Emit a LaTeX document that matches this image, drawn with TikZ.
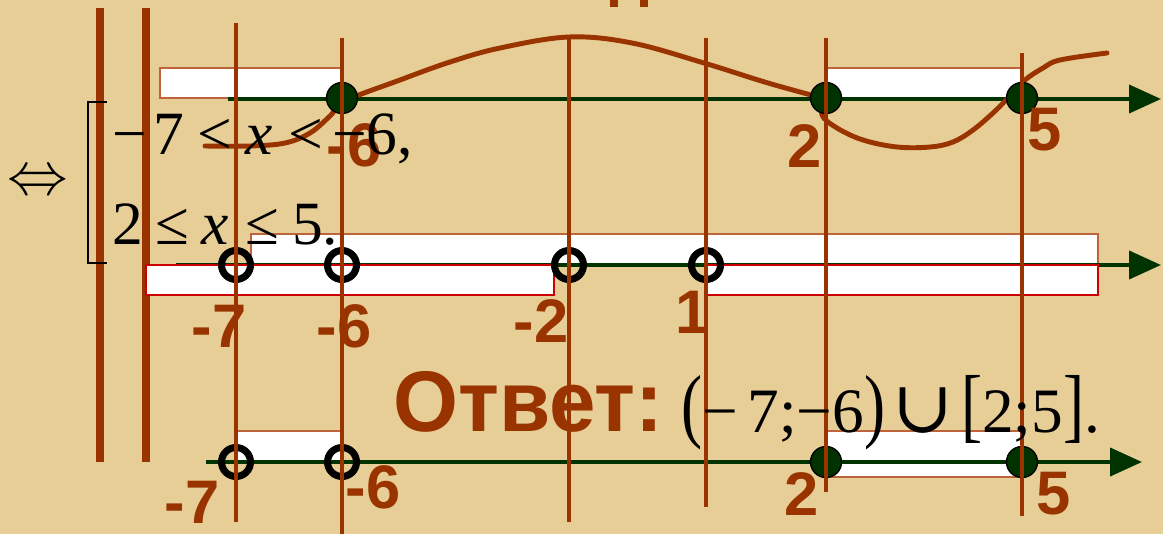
\documentclass[tikz,border=0pt]{standalone}
\usepackage{fontspec}
\usepackage{graphicx}
\setmainfont{Liberation Serif}
\newfontfamily\labfont{Liberation Sans}
\newfontfamily\djserif{DejaVu Serif}
\usetikzlibrary{arrows.meta}
\definecolor{brn}{RGB}{153,51,0}
\definecolor{dkg}{RGB}{0,51,0}
\definecolor{parch}{RGB}{231,206,150}
\definecolor{boxedge}{RGB}{190,100,60}
\definecolor{redge}{RGB}{204,0,0}
\begin{document}
\begin{tikzpicture}[x=0.02cm,y=-0.02cm,
 guide/.style={draw=brn,line width=1.9pt},
 bar/.style={draw=brn,line width=4.5pt},
 axisline/.style={draw=dkg,line width=2.3pt,-{Triangle[length=0.64cm,width=0.56cm]}},
 wbox/.style={fill=white,draw=boxedge,line width=0.9pt},
 rbox/.style={fill=white,draw=redge,line width=0.9pt},
 fdot/.style={circle,fill=dkg,draw=black,line width=0.8pt,minimum size=0.62cm,inner sep=0pt},
 odot/.style={circle,draw=black,line width=4pt,minimum size=0.58cm,inner sep=0pt},
 lab/.style={text=brn,font=\labfont\bfseries\fontsize{35}{35}\selectfont,inner sep=0pt},
 curve/.style={draw=brn,line width=2.8pt,line cap=round,line join=round},
 mtxt/.style={anchor=base west,inner sep=0pt,font=\fontsize{35}{35}\selectfont},
]
\useasboundingbox (0,0) rectangle (1163,534);
% background
\fill[parch] (0,0) rectangle (1163,534);
% title fragment
\fill[brn] (610,0) rectangle (618,7);
\fill[brn] (640,0) rectangle (648,7);
% thick bars
\draw[bar] (100,8) -- (100,462);
\draw[bar] (146,8) -- (146,462);

% ---- axis 1
\draw[wbox] (160,68) rectangle (342,98);
\draw[wbox] (826,68) rectangle (1022,98);
\coordinate (a1s) at (228,99);
\coordinate (a1e) at (1161,99);
\draw[axisline] (a1s) -- (a1e);

% ---- axis 2
\draw[wbox] (251,234) rectangle (1098,265);
\coordinate (a2s) at (176,265);
\coordinate (a2e) at (1161,265);
\draw[axisline] (a2s) -- (a2e);
\draw[rbox] (146,265) rectangle (554,295);
\draw[rbox] (706,265) rectangle (1098,295);

% ---- axis 3
\draw[wbox] (236,431) rectangle (342,462);
\draw[wbox] (826,431) rectangle (1022,477);
\coordinate (a3s) at (206,462);
\coordinate (a3e) at (1142,462);
\draw[axisline] (a3s) -- (a3e);

% curve
\draw[curve] plot[smooth,tension=0.6] coordinates {(205,146) (250,146) (285,143) (310,133) (330,116) (345,101) (400,80) (450,62) (500,48) (569,37) (632,43) (704,63) (768,83) (826,99)};
\draw[curve] plot[smooth,tension=0.6] coordinates {(826,99) (822,115) (837,128) (863,140) (897,147) (930,147) (953,142) (973,130) (993,113) (1010,96) (1025,80) (1043,68) (1060,60) (1107,53)};

% dots
\node[fdot] (p1a) at (342,98) {};
\node[fdot] (p1b) at (826,98) {};
\node[fdot] (p1c) at (1022,98) {};
\node[odot] (p2a) at (236,265) {};
\node[odot] (p2b) at (342,265) {};
\node[odot] (p2c) at (569,265) {};
\node[odot] (p2d) at (706,265) {};
\node[odot] (p3a) at (236,462) {};
\node[odot] (p3b) at (342,462) {};
\node[fdot] (p3c) at (826,462) {};
\node[fdot] (p3d) at (1022,462) {};

% guide lines
\draw[guide] (236,23) -- (236,522);
\draw[guide] (342,38) -- (342,534);
\draw[guide] (569,38) -- (569,522);
\draw[guide] (706,38) -- (706,507);
\draw[guide] (826,38) -- (826,492);
\draw[guide] (1022,53) -- (1022,516);

% labels
\node[lab] (t1a) at (354,145) {-6};
\node[lab] (t1b) at (805,146) {2};
\node[lab] (t1c) at (1045,130) {5};
\node[lab] (t2a) at (219,326) {-7};
\node[lab] (t2b) at (344,326) {-6};
\node[lab] (t2c) at (541,321) {-2};
\node[lab] (t2d) at (693,312) {1};
\node[lab] (t3a) at (192,502) {-7};
\node[lab] (t3b) at (373,487) {-6};
\node[lab] (t3c) at (802,494) {2};
\node[lab] (t3d) at (1054,494) {5};

% system
\node[inner sep=0pt] (eqv) at (38,183) {\scalebox{3.45}{$\Leftrightarrow$}};
\draw[line width=1.2pt] (107,102) -- (88,102) -- (88,263) -- (107,263);
\node[mtxt] (ln1) at (112,154) {−\hspace{0.1em}7\hspace{0.22em}<\hspace{0.22em}\textit{x}\hspace{0.25em}<\hspace{0.15em}−6,};
\node[mtxt] (ln2) at (112,244) {2\hspace{0.2em}≤\hspace{0.2em}\textit{x}\hspace{0.28em}≤\hspace{0.2em}5.};

% answer
\node[anchor=base west,inner sep=0pt,text=brn,font=\labfont\bfseries\fontsize{49}{49}\selectfont,xscale=0.97] (otv) at (393,431) {Ответ:};
\node[anchor=base west,inner sep=0pt,font=\fontsize{36}{36}\selectfont] (ans) at (681,432) {\scalebox{1}[1.3]{(}−\hspace{0.15em}7;−6\scalebox{1}[1.3]{)}\hspace{0.12em}{\djserif\scalebox{1.15}{∪}}\hspace{0.12em}\scalebox{1}[1.3]{[}2;5\scalebox{1}[1.3]{]}.};
\end{tikzpicture}
\end{document}
